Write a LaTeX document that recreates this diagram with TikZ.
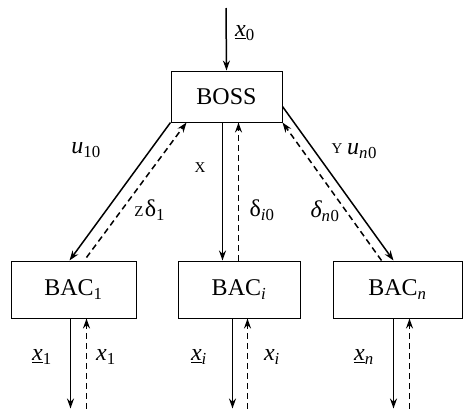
\documentclass[tikz,border=0pt]{standalone}
\usepackage{fontspec}
\setmainfont{Liberation Serif}
\usetikzlibrary{arrows.meta,calc}
\newcommand{\ul}[1]{\underline{\textit{#1}}}
\begin{document}
\begin{tikzpicture}[x=1pt,y=-1pt,
  box/.style={draw,line width=1pt,inner sep=0pt,font=\fontsize{24}{26}\selectfont},
  sol/.style={line width=1.5pt,-{Stealth[length=10pt,width=7pt]}},
  das/.style={line width=1.5pt,dash pattern=on 6pt off 4pt,-{Stealth[length=10pt,width=7pt]}},
  lab/.style={font=\fontsize{24}{26}\selectfont,inner sep=0pt},
  sml/.style={font=\fontsize{15}{17}\selectfont,inner sep=0pt}]
\useasboundingbox (0,0) rectangle (463,410);
\node[box,minimum width=111pt,minimum height=51pt] (boss) at (226.5,96.5) {BOSS};
\node[box,minimum width=125pt,minimum height=57pt] (bac1) at (73.5,289.5) {BAC\textsubscript{1}};
\node[box,minimum width=122pt,minimum height=57pt] (baci) at (239,289.5) {BAC\textsubscript{\textit{i}}};
\node[box,minimum width=129pt,minimum height=57pt] (bacn) at (397.5,289.5) {BAC\textsubscript{\textit{n}}};
% top input
\coordinate (top) at (226,8);
\draw[sol] (top) -- (boss.north);
\node[lab] (lx0) at (245,33) {\ul{x}\textsubscript{0}};
% left branch
\coordinate (b1s) at ($(bac1.north west)+(59,0)$);
\coordinate (b1d) at ($(bac1.north west)+(76,-3)$);
\coordinate (bossd1) at ($(boss.south west)+(16,0)$);
\draw[sol] (boss.south west) -- (b1s);
\draw[das] (b1d) -- (bossd1);
\node[lab] (lu10) at (86,150) {\textit{u}\textsubscript{10}};
\node[sml] (lz) at (139,212) {Z};
\node[lab] (ld1) at (155,210) {δ\textsubscript{1}};
% middle branch
\coordinate (bis) at ($(boss.south west)+(52,0)$);
\coordinate (bid) at ($(boss.south west)+(68,0)$);
\draw[sol] (bis) -- (bis |- baci.north);
\draw[das] (bid |- baci.north) -- (bid);
\node[sml] (lx) at (200,168) {X};
\node[lab] (ldi) at (262,210) {δ\textsubscript{\textit{i}0}};
% right branch
\coordinate (bossr) at ($(boss.north east)+(0,36)$);
\coordinate (bns) at ($(bacn.north west)+(61,0)$);
\coordinate (bnd) at ($(bacn.north west)+(49,0)$);
\draw[sol] (bossr) -- (bns);
\draw[das] (bnd) -- (boss.south east);
\node[sml] (ly) at (337,149) {Y};
\node[lab] (lun) at (362,151) {\textit{u\textsubscript{n}}\textsubscript{0}};
\node[lab] (ldn) at (325,211) {\textit{δ\textsubscript{n}}\textsubscript{0}};
% bottom arrows
\foreach \b/\s/\d in {bac1/60/76, baci/55/70, bacn/61/77}{
  \coordinate (\b s) at ($(\b.south west)+(\s,0)$);
  \coordinate (\b se) at ($(\b s)+(0,90)$);
  \coordinate (\b d) at ($(\b.south west)+(\d,0)$);
  \coordinate (\b de) at ($(\b d)+(0,90)$);
  \draw[sol] (\b s) -- (\b se);
  \draw[das] (\b de) -- (\b d);
}
\node[lab] (lx1u) at (42,357) {\ul{x}\textsubscript{1}};
\node[lab] (lx1) at (106,357) {\textit{x}\textsubscript{1}};
\node[lab] (lxiu) at (199,357) {\ul{x}\textsubscript{\textit{i}}};
\node[lab] (lxi) at (272,357) {\textit{x\textsubscript{i}}};
\node[lab] (lxnu) at (364,357) {\ul{x}\textsubscript{\textit{n}}};
\end{tikzpicture}
\end{document}
